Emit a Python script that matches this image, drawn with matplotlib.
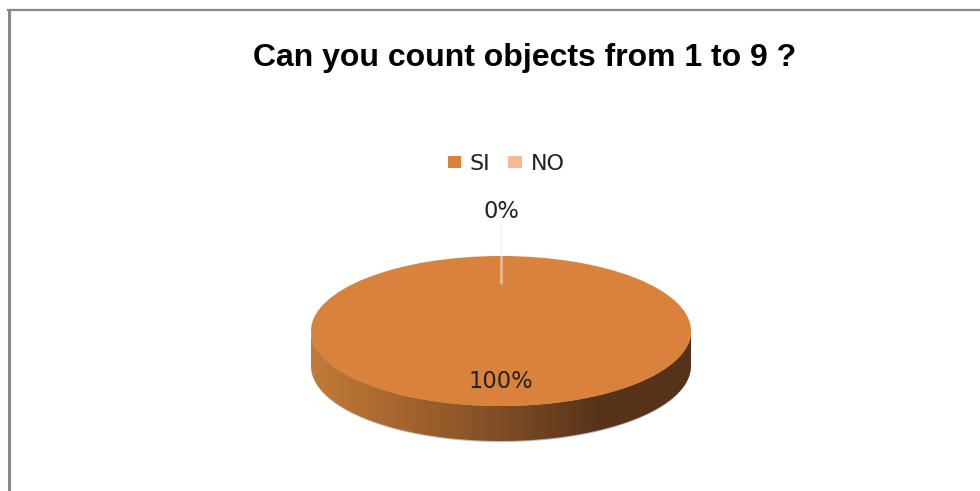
import numpy as np
import matplotlib
matplotlib.use("Agg")
import matplotlib.pyplot as plt
from matplotlib.colors import LinearSegmentedColormap
from matplotlib.lines import Line2D
from matplotlib.patches import PathPatch, Ellipse
from matplotlib.path import Path

title = "Can you count objects from 1 to 9 ?"
labels = ["SI", "NO"]
values = [100, 0]
colors = ["#D9823B", "#F9B794"]
sideColors = ["#C27A38", "#A4642E", "#7F4D25", "#58341A", "#55321A"]

W, H = 980, 491
fig = plt.figure(figsize=(W / 100, H / 100), dpi=100, facecolor="white")

# grey frame, only top and left are visible in the picture
fig.add_artist(Line2D([8.5 / W, 8.5 / W], [0, 1 - 10 / H], color="#888888", lw=2.2))
fig.add_artist(Line2D([7.5 / W, 1], [1 - 10 / H, 1 - 10 / H], color="#888888", lw=1.6))

# axes box holds the pie and its side, squashed because aspect is auto
depth = 35 / 75
margin = 0.1
left, right, top, ry = 311, 691, 256, 75
bottom = top + ry * (2 + depth + margin)
ax = fig.add_axes([left / W, 1 - bottom / H, (right - left) / W, (bottom - top) / H])
wedges, texts, autotexts = ax.pie(
    values, colors=colors, startangle=90, radius=1, counterclock=True,
    autopct=lambda p: f"{p:.0f}%", pctdistance=0.67,
    textprops={"fontsize": 16.3, "color": "#222222", "family": "DejaVu Sans"},
    wedgeprops={"linewidth": 0},
)
ax.axis("off")

# pie side, gradient clipped to the band under the top ellipse
t = np.linspace(np.pi, 2 * np.pi, 200)
xs = np.concatenate([np.cos(t), np.cos(t[::-1])])
ys = np.concatenate([np.sin(t) - depth, np.sin(t[::-1])])
shadow = Ellipse((0, -depth - 0.015), 1.995, 2, facecolor="#BDBDBD", edgecolor="none", zorder=0)
ax.add_patch(shadow)
cmap = LinearSegmentedColormap.from_list("side", sideColors)
grad = ax.imshow(np.linspace(0, 1, 256).reshape(1, -1), cmap=cmap, aspect="auto",
                 extent=(-1, 1, -1 - depth, 1), zorder=0.5)
patch = PathPatch(Path(np.column_stack([xs, ys])), transform=ax.transData, facecolor="none", edgecolor="none")
ax.add_patch(patch)
grad.set_clip_path(patch)
ax.set_aspect("auto")
ax.set_xlim(-1, 1)
ax.set_ylim(-1 - depth - margin, 1)
for w in wedges:
    w.set_zorder(2)

# the 0% slice has no width, so show it as the thin mark it is in the picture
ang = np.deg2rad(wedges[1].theta1)
ax.plot([np.cos(ang), 0.63 * np.cos(ang)], [np.sin(ang), 0.63 * np.sin(ang)],
        color="#E8B48C", lw=2.2, zorder=3, solid_capstyle="butt", clip_on=False)
ax.plot([np.cos(ang), 1.41 * np.cos(ang)], [np.sin(ang), 1.41 * np.sin(ang)],
        color="#EEEEEE", lw=1, zorder=3, clip_on=False)

autotexts[0].set_zorder(5)
autotexts[1].set_position((0, 1.6))
autotexts[1].set_zorder(5)

fig.text(524.5 / W, 1 - 58 / H, title, ha="center", va="center", fontsize=23,
         fontweight="bold", family="Liberation Sans", color="black")

fig.legend(wedges, labels, loc="center", bbox_to_anchor=(506 / W, 1 - 164 / H), ncol=2,
           frameon=False, handlelength=0.6, handleheight=0.45,
           handletextpad=0.4, columnspacing=0.8, labelcolor="#222222",
           prop={"family": "DejaVu Sans", "size": 16})

fig.savefig("out.png", dpi=100)
